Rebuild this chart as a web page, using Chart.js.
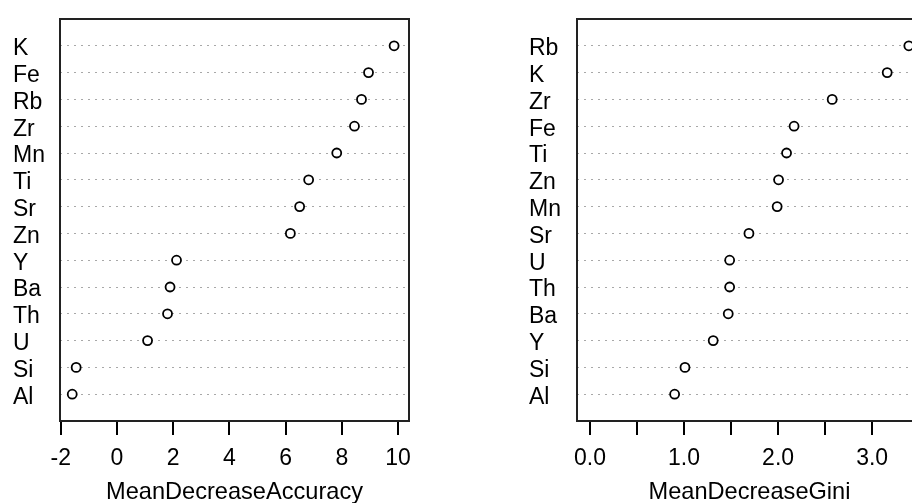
<!DOCTYPE html>
<html>
<head>
<meta charset="utf-8">
<script src="https://cdn.jsdelivr.net/npm/chart.js@4.4.1/dist/chart.umd.min.js"></script>
<style>
  html, body { margin: 0; padding: 0; background: #fff; overflow: hidden; }
  #wrap { position: relative; width: 912px; height: 503px; overflow: hidden; }
  #c1 { position: absolute; left: 0; top: 0; }
  #c2 { position: absolute; left: 456px; top: 0; }
</style>
</head>
<body>
<div id="wrap">
  <canvas id="c1" width="456" height="503"></canvas>
  <canvas id="c2" width="480" height="503"></canvas>
</div>
<script>
// rows listed top to bottom, as in the picture
const accLabels = ["K", "Fe", "Rb", "Zr", "Mn", "Ti", "Sr", "Zn", "Y", "Ba", "Th", "U", "Si", "Al"];
const accValues = [9.86, 8.95, 8.70, 8.45, 7.82, 6.82, 6.50, 6.17, 2.12, 1.89, 1.80, 1.09, -1.45, -1.59];
const accTicks = [-2, 0, 2, 4, 6, 8, 10];

const giniLabels = ["Rb", "K", "Zr", "Fe", "Ti", "Zn", "Mn", "Sr", "U", "Th", "Ba", "Y", "Si", "Al"];
const giniValues = [3.39, 3.16, 2.575, 2.17, 2.09, 2.005, 1.99, 1.69, 1.485, 1.485, 1.47, 1.31, 1.01, 0.90];
const giniTicks = [0, 0.5, 1, 1.5, 2, 2.5, 3, 3.5];
const giniTickLabels = ["0.0", "", "1.0", "", "2.0", "", "3.0", ""];

const FONT = { family: "'Liberation Sans', Arial, sans-serif", size: 23 };

// box round the plotting area, like R's box()
const boxPlugin = {
  id: "box",
  afterDraw(chart) {
    const { ctx, chartArea: a } = chart;
    ctx.save();
    ctx.strokeStyle = "#222";
    ctx.lineWidth = 2;
    ctx.strokeRect(a.left, a.top, a.right - a.left, a.bottom - a.top);
    ctx.restore();
  },
};

const makeDotchart = (canvas, labels, values, ticks, tickLabels, xmin, xmax, title, pad) => {
  const n = labels.length;
  const points = values.map((v, i) => ({ x: v, y: n - i }));
  return new Chart(canvas.getContext("2d"), {
    type: "scatter",
    data: {
      datasets: [{
        data: points,
        showLine: false,
        pointStyle: "circle",
        pointRadius: 4.5,
        pointBorderWidth: 1.8,
        pointBorderColor: "#000",
        pointBackgroundColor: "#fff",
        clip: false,
      }],
    },
    options: {
      responsive: false,
      animation: false,
      layout: { padding: pad },
      plugins: { legend: { display: false }, tooltip: { enabled: false } },
      scales: {
        x: {
          type: "linear",
          min: xmin,
          max: xmax,
          afterBuildTicks: (s) => { s.ticks = ticks.map((v) => ({ value: v })); },
          afterFit: (s) => { s.height = 82; },
          grid: {
            drawOnChartArea: false,
            drawTicks: true,
            tickLength: 14,
            color: "#000",
            lineWidth: 2,
          },
          border: { display: false },
          ticks: {
            autoSkip: false,
            maxRotation: 0,
            padding: 10,
            color: "#000",
            font: FONT,
            callback: (v, i) => tickLabels[i],
          },
          title: {
            display: true,
            text: title,
            color: "#000",
            font: { ...FONT, size: 23.6, lineHeight: 0.9 },
            padding: { top: 0, bottom: 0 },
          },
        },
        y: {
          type: "linear",
          min: 0,
          max: n + 1,
          afterBuildTicks: (s) => { s.ticks = labels.map((l, i) => ({ value: n - i })); },
          afterFit: (s) => { s.width = pad.yw; },
          grid: {
            drawOnChartArea: true,
            drawTicks: false,
            color: "#a8a8a8",
            lineWidth: 1,
          },
          border: { display: false, dash: [2, 5] },
          ticks: {
            crossAlign: "far",
            labelOffset: 3,
            color: "#000",
            font: FONT,
            callback: (v) => labels[n - v],
          },
        },
      },
    },
    plugins: [boxPlugin],
  });
};

makeDotchart(
  document.getElementById("c1"), accLabels, accValues, accTicks,
  accTicks.map(String), -2.025, 10.39, "MeanDecreaseAccuracy",
  { left: 13, right: 47, top: 19, bottom: 0, yw: 47 }
);

makeDotchart(
  document.getElementById("c2"), giniLabels, giniValues, giniTicks,
  giniTickLabels, -0.138, 3.53, "MeanDecreaseGini",
  { left: 73, right: 14, top: 19, bottom: 0, yw: 48 }
);
</script>
</body>
</html>
